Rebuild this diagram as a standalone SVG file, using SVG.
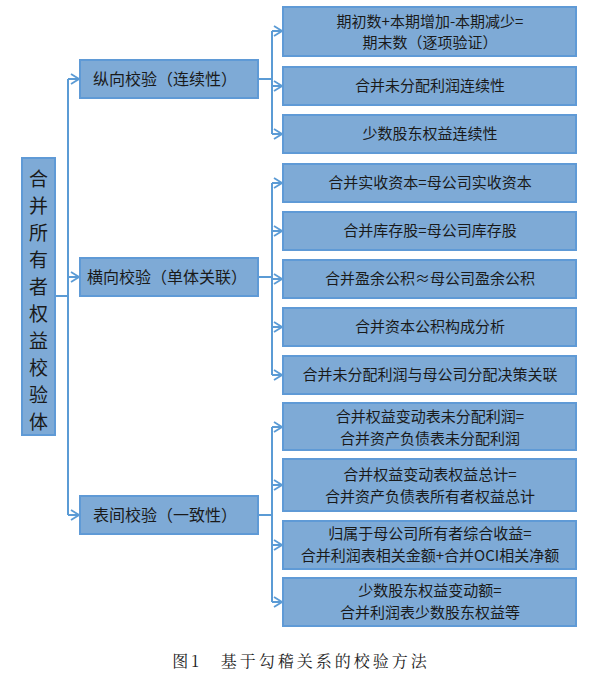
<svg xmlns="http://www.w3.org/2000/svg" width="602" height="684" viewBox="0 0 602 684">
<style>
.b{fill:#7eaad6;stroke:#5f9ad6;stroke-width:2}
.t{font-family:"Noto Sans CJK SC",sans-serif;font-size:15px;fill:#1a1a1a;text-anchor:middle}
.c{fill:none;stroke:#5b9bd5;stroke-width:2}
</style>
<defs><marker id="a" markerWidth="10" markerHeight="12" refX="9" refY="6" orient="auto" markerUnits="userSpaceOnUse"><path d="M1,1 L9,6 L1,11" fill="none" stroke="#5b9bd5" stroke-width="1.8"/></marker></defs>
<rect width="602" height="684" fill="#fff"/>
<g id="connectors" class="c">
<path d="M55,296 H68"/><path d="M68,79 V515"/>
<path d="M68,79 H79" marker-end="url(#a)"/><path d="M68,277 H79" marker-end="url(#a)"/><path d="M68,515 H79" marker-end="url(#a)"/>
<path d="M258,79 H272"/><path d="M272,31 V134"/>
<path d="M272,31 H282" marker-end="url(#a)"/><path d="M272,86 H282" marker-end="url(#a)"/><path d="M272,134 H282" marker-end="url(#a)"/>
<path d="M258,277 H272"/><path d="M272,183 V375"/>
<path d="M272,183 H282" marker-end="url(#a)"/><path d="M272,231 H282" marker-end="url(#a)"/><path d="M272,279 H282" marker-end="url(#a)"/><path d="M272,327 H282" marker-end="url(#a)"/><path d="M272,375 H282" marker-end="url(#a)"/>
<path d="M258,515 H272"/><path d="M272,427 V602"/>
<path d="M272,427 H282" marker-end="url(#a)"/><path d="M272,485 H282" marker-end="url(#a)"/><path d="M272,545 H282" marker-end="url(#a)"/><path d="M272,602 H282" marker-end="url(#a)"/>
</g>
<g id="root"><rect class="b" x="22" y="158" width="33" height="277"/>
<text class="t" style="font-size:19px" x="38.5"><tspan x="38.5" y="186">合</tspan><tspan x="38.5" y="213">并</tspan><tspan x="38.5" y="240">所</tspan><tspan x="38.5" y="267">有</tspan><tspan x="38.5" y="294">者</tspan><tspan x="38.5" y="321">权</tspan><tspan x="38.5" y="348">益</tspan><tspan x="38.5" y="375">校</tspan><tspan x="38.5" y="402">验</tspan><tspan x="38.5" y="429">体</tspan><tspan x="38.5" y="429" dy="0"></tspan></text>
</g>
<g id="n1"><rect class="b" x="80" y="60" width="178" height="38"/><text class="t" style="font-size:16px" x="165" y="85">纵向校验（连续性）</text></g>
<g id="n2"><rect class="b" x="80" y="258" width="178" height="38"/><text class="t" style="font-size:16px" x="167" y="283">横向校验（单体关联）</text></g>
<g id="n3"><rect class="b" x="80" y="496" width="178" height="38"/><text class="t" style="font-size:16px" x="165" y="521">表间校验（一致性）</text></g>
<g id="l1"><rect class="b" x="283" y="7" width="293" height="49"/><text class="t" x="430" y="27">期初数+本期增加-本期减少=</text><text class="t" x="430" y="48">期末数（逐项验证）</text></g>
<g id="l2"><rect class="b" x="283" y="67" width="293" height="38"/><text class="t" x="430" y="91">合并未分配利润连续性</text></g>
<g id="l3"><rect class="b" x="283" y="115" width="293" height="38"/><text class="t" x="430" y="139">少数股东权益连续性</text></g>
<g id="l4"><rect class="b" x="283" y="164" width="293" height="38"/><text class="t" x="430" y="188">合并实收资本=母公司实收资本</text></g>
<g id="l5"><rect class="b" x="283" y="212" width="293" height="38"/><text class="t" x="430" y="236">合并库存股=母公司库存股</text></g>
<g id="l6"><rect class="b" x="283" y="260" width="293" height="38"/><text class="t" x="430" y="284">合并盈余公积≈母公司盈余公积</text></g>
<g id="l7"><rect class="b" x="283" y="308" width="293" height="38"/><text class="t" x="430" y="332">合并资本公积构成分析</text></g>
<g id="l8"><rect class="b" x="283" y="356" width="293" height="38"/><text class="t" x="430" y="380">合并未分配利润与母公司分配决策关联</text></g>
<g id="l9"><rect class="b" x="283" y="403" width="293" height="47"/><text class="t" x="430" y="422">合并权益变动表未分配利润=</text><text class="t" x="430" y="444">合并资产负债表未分配利润</text></g>
<g id="l10"><rect class="b" x="283" y="459" width="293" height="52"/><text class="t" x="430" y="480">合并权益变动表权益总计=</text><text class="t" x="430" y="502">合并资产负债表所有者权益总计</text></g>
<g id="l11"><rect class="b" x="283" y="521" width="293" height="48"/><text class="t" x="430" y="539">归属于母公司所有者综合收益=</text><text class="t" x="430" y="561">合并利润表相关金额+合并OCI相关净额</text></g>
<g id="l12"><rect class="b" x="283" y="578" width="293" height="48"/><text class="t" x="430" y="596">少数股东权益变动额=</text><text class="t" x="430" y="618">合并利润表少数股东权益等</text></g>
<text x="301" y="667" style="font-family:'Noto Serif CJK SC','Noto Sans CJK SC',serif;font-size:16px;letter-spacing:3px;fill:#222" text-anchor="middle">图1　基于勾稽关系的校验方法</text>
</svg>
